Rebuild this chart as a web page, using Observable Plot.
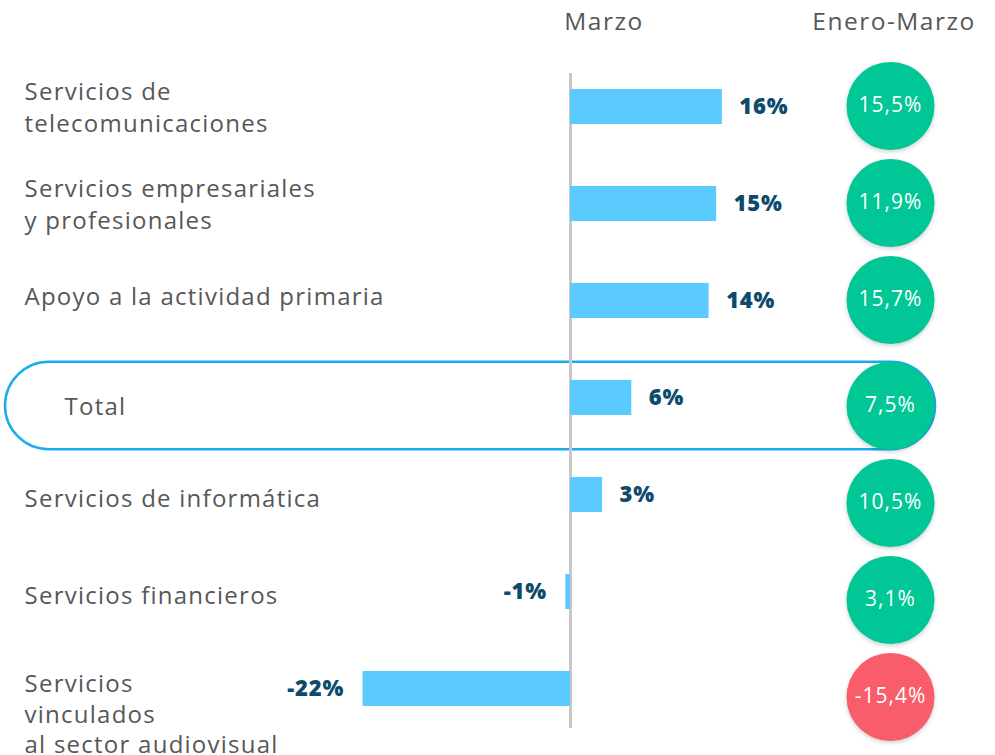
<!DOCTYPE html>
<html>
<head>
<meta charset="utf-8">
<script src="https://cdn.jsdelivr.net/npm/d3@7"></script>
<script src="https://cdn.jsdelivr.net/npm/@observablehq/plot@0.6"></script>
<style>
  html, body { margin: 0; padding: 0; background: #fff; }
  #chart svg { display: block; font-family: "Open Sans", sans-serif; }
  #chart g[aria-label="dot"] circle { filter: drop-shadow(0px 2px 2px rgba(0,0,0,0.18)); }
  #chart g[font-size="24"] text { letter-spacing: 1.25px; }
  #chart g[font-size="22"] text { letter-spacing: 0.8px; }
  #chart g[font-size="21"] text { letter-spacing: 1px; }
  #chart g[font-size="24.5"] text { letter-spacing: 1.5px; }
</style>
</head>
<body>
<div id="chart"></div>
<script>
// ---- data ----
const categories = [
  "Servicios de\ntelecomunicaciones",
  "Servicios empresariales\ny profesionales",
  "Apoyo a la actividad primaria",
  "Total",
  "Servicios de informática",
  "Servicios financieros",
  "Servicios\nvinculados\nal sector audiovisual"
];
const marzo = [16.1, 15.5, 14.7, 6.5, 3.4, -0.5, -22];
const marzoLabels = ["16%", "15%", "14%", "6%", "3%", "-1%", "-22%"];
const eneroMarzo = [15.5, 11.9, 15.7, 7.5, 10.5, 3.1, -15.4];
const headers = ["Marzo", "Enero-Marzo"];
const highlight = ["Total"];

const rows = categories.map((c, i) => ({
  i,
  cat: c,
  marzo: marzo[i],
  label: marzoLabels[i],
  em: eneroMarzo[i],
  emLabel: eneroMarzo[i].toFixed(1).replace(".", ",") + "%"
}));

const FONT = "Open Sans, sans-serif";
const GRAY = "#575757";
const TEAL = "#0d4b6c";

const top3 = rows.filter(d => d.i < 3);
const rest = rows.filter(d => d.i >= 3);
const circleFill = d => d.em < 0 ? "#f95c6a" : "#00c795";

const plot = Plot.plot({
  width: 995,
  height: 755,
  marginTop: 0, marginRight: 0, marginBottom: 0, marginLeft: 0,
  style: { fontFamily: FONT, background: "#fff" },
  x: { domain: [-60.45, 45.07], range: [0, 995], axis: null },
  y: { type: "band", domain: categories, range: [56.25, 738.75], padding: 0, axis: null },
  marks: [
    // highlight pill around Total
    Plot.cell(highlight, {
      y: d => d, fill: "none", stroke: "#1aaee8", strokeWidth: 2.5,
      insetLeft: 5, insetRight: 60, insetTop: 12.75, insetBottom: -3.25, rx: 44, ry: 44
    }),
    // zero line
    Plot.ruleX([0], { stroke: "#c8c8c8", strokeWidth: 3, insetTop: 73, insetBottom: 27 }),
    // bars
    Plot.barX(rows, { x: "marzo", y: "cat", fill: "#5bcbff", insetTop: 31, insetBottom: 31 }),
    // bar value labels
    Plot.text(rows.filter(d => d.marzo >= 0), {
      x: "marzo", y: "cat", text: "label", textAnchor: "start", dx: 17,
      fill: TEAL, fontWeight: 800, fontSize: 22
    }),
    Plot.text(rows.filter(d => d.marzo < 0), {
      x: "marzo", y: "cat", text: "label", textAnchor: "end", dx: -19,
      fill: TEAL, fontWeight: 800, fontSize: 22
    }),
    // category labels
    Plot.text(rows.filter(d => d.i < 2), {
      y: "cat", text: "cat", frameAnchor: "left", textAnchor: "start", dx: 24, dy: -1,
      fill: GRAY, fontSize: 24, lineHeight: 1.3
    }),
    Plot.text(rows.filter(d => d.i === 2), {
      y: "cat", text: "cat", frameAnchor: "left", textAnchor: "start", dx: 24, dy: -4,
      fill: GRAY, fontSize: 24
    }),
    Plot.text(rows.filter(d => d.i === 4 || d.i === 5), {
      y: "cat", text: "cat", frameAnchor: "left", textAnchor: "start", dx: 24, dy: 4,
      fill: GRAY, fontSize: 24
    }),
    Plot.text(rows.filter(d => d.cat === "Total"), {
      y: "cat", text: "cat", frameAnchor: "left", textAnchor: "start", dx: 64, dy: 9,
      fill: GRAY, fontSize: 24
    }),
    Plot.text(rows.filter(d => d.cat.includes("audiovisual")), {
      y: "cat", text: "cat", frameAnchor: "left", textAnchor: "start", dx: 24, dy: -19,
      lineAnchor: "top", fill: GRAY, fontSize: 24, lineHeight: 1.28
    }),
    // Enero-Marzo circles
    Plot.dot(top3, {
      y: "cat", frameAnchor: "right", dx: -105, dy: -1, r: 44,
      fill: circleFill, stroke: "none"
    }),
    Plot.dot(rest, {
      y: "cat", frameAnchor: "right", dx: -105, dy: 8, r: 44,
      fill: circleFill, stroke: "none"
    }),
    Plot.text(top3, {
      y: "cat", text: "emLabel", frameAnchor: "right", textAnchor: "middle", dx: -105, dy: -2,
      fill: "#fff", fontSize: 21
    }),
    Plot.text(rest, {
      y: "cat", text: "emLabel", frameAnchor: "right", textAnchor: "middle", dx: -105, dy: 7,
      fill: "#fff", fontSize: 21
    }),
    // column headers
    Plot.text([headers[0]], {
      text: d => d, frameAnchor: "top", dx: 106, dy: 22, lineAnchor: "middle",
      fill: GRAY, fontSize: 24.5
    }),
    Plot.text([headers[1]], {
      text: d => d, frameAnchor: "top", dx: 396, dy: 22, lineAnchor: "middle",
      fill: GRAY, fontSize: 24.5
    })
  ]
});
document.getElementById("chart").appendChild(plot);
</script>
</body>
</html>
